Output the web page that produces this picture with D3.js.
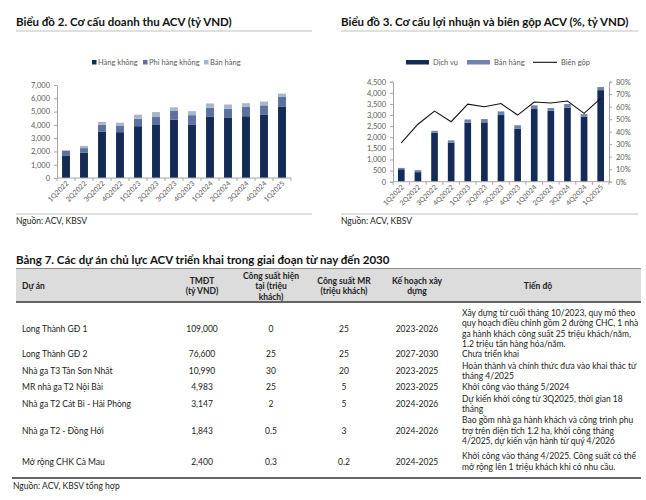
<!DOCTYPE html>
<html><head><meta charset="utf-8">
<script src="https://cdn.jsdelivr.net/npm/d3@7"></script>
<style>
body{margin:0;background:#fff;}
svg{display:block;font-family:Lato,"Noto Sans",sans-serif;}
</style></head>
<body>
<svg id="c" width="646" height="500"></svg>
<script>
// ---------- Chart 2 data (revenue structure) ----------
const quarters = ["1Q2022","2Q2022","3Q2022","4Q2022","1Q2023","2Q2023","3Q2023","4Q2023","1Q2024","2Q2024","3Q2024","4Q2024","1Q2025"];
const hangKhong   = [1700,1900,3500,3450,3900,4040,4400,4030,4630,4520,4650,4750,5350];
const phiHangKhong= [350, 350, 500, 470, 560, 590, 650, 700, 650, 680, 700, 720, 750];
const banHang1    = [50,  170, 220, 240, 310, 330, 270, 300, 330, 330, 280, 280, 250];
const rev1Ticks   = [0,1000,2000,3000,4000,5000,6000,7000];
const legend1     = ["Hàng không","Phi hàng không","Bán hàng"];

// ---------- Chart 3 data (profit & gross margin) ----------
const dichVu   = [560, 430, 2200,1750,2650,2670,3000,2390,3270,3190,3330,2920,4120];
const banHang2 = [60,  90,  90,  110, 150, 150, 165, 150, 165, 125, 165, 120, 140];
const bienGop  = [0.31,0.46,0.565,0.48,0.62,0.60,0.625,0.533,0.637,0.63,0.645,0.547,0.667];
const leftTicks  = [0,500,1000,1500,2000,2500,3000,3500,4000,4500];
const rightTicks = [0,0.1,0.2,0.3,0.4,0.5,0.6,0.7,0.8];
const legend2    = ["Dịch vụ","Bán hàng","Biên gộp"];

// ---------- Table data ----------
const tableHeaders = [["Dự án"],["TMĐT","(tỷ VND)"],["Công suất hiện","tại (triệu","khách)"],["Công suất MR","(triệu khách)"],["Kế hoạch xây","dựng"],["Tiến độ"]];
const projects = ["Long Thành GĐ 1","Long Thành GĐ 2","Nhà ga T3 Tân Sơn Nhất","MR nhà ga T2 Nội Bài","Nhà ga T2 Cát Bi - Hải Phòng","Nhà ga T2 - Đồng Hới","Mở rộng CHK Cà Mau"];
const tmdt     = ["109,000","76,600","10,990","4,983","3,147","1,843","2,400"];
const capNow   = ["0","25","30","25","2","0.5","0.3"];
const capMR    = ["25","25","20","5","5","3","0.2"];
const plan     = ["2023-2026","2027-2030","2023-2025","2023-2025","2024-2026","2024-2026","2024-2025"];
const progress = [
  ["Xây dựng từ cuối tháng 10/2023, quy mô theo","quy hoạch điều chỉnh gồm 2 đường CHC, 1 nhà","ga hành khách công suất 25 triệu khách/năm,","1.2 triệu tấn hàng hóa/năm."],
  ["Chưa triển khai"],
  ["Hoàn thành và chính thức đưa vào khai thác từ","tháng 4/2025"],
  ["Khởi công vào tháng 5/2024"],
  ["Dự kiến khởi công từ 3Q2025, thời gian 18","tháng"],
  ["Bao gồm nhà ga hành khách và công trình phụ","trợ trên diện tích 1.2 ha, khởi công tháng","4/2025, dự kiến vận hành từ quý 4/2026"],
  ["Khởi công vào tháng 4/2025. Công suất có thể","mở rộng lên 1 triệu khách khi có nhu cầu."]
];
const titles = ["Biểu đồ 2. Cơ cấu doanh thu ACV (tỷ VND)","Biểu đồ 3. Cơ cấu lợi nhuận và biên gộp ACV (%, tỷ VND)","Bảng 7. Các dự án chủ lực ACV triển khai trong giai đoạn từ nay đến 2030"];
const sources = ["Nguồn: ACV, KBSV","Nguồn: ACV, KBSV","Nguồn: ACV, KBSV tổng hợp"];

const svg = d3.select("#c");
const NAVY = "#142a57", MID = "#5d71a0", LIGHT = "#a9b5cd", TXT="#595959", AX="#a6a6a6";

svg.append("text").attr("x",16).attr("y",26).attr("font-size",11.5).attr("font-weight",700).attr("fill","#111").text(titles[0]);
svg.append("text").attr("x",341).attr("y",26).attr("font-size",11.5).attr("font-weight",700).attr("fill","#111").text(titles[1]);
svg.append("line").attr("x1",16).attr("x2",312).attr("y1",31).attr("y2",31).attr("stroke","#bfbfbf");
svg.append("line").attr("x1",341).attr("x2",638).attr("y1",31).attr("y2",31).attr("stroke","#bfbfbf");
svg.append("line").attr("x1",16).attr("x2",312).attr("y1",214).attr("y2",214).attr("stroke","#bfbfbf");
svg.append("line").attr("x1",341).attr("x2",638).attr("y1",214).attr("y2",214).attr("stroke","#bfbfbf");
svg.append("text").attr("x",16).attr("y",224).attr("font-size",8.5).attr("fill","#222").text(sources[0]);
svg.append("text").attr("x",341).attr("y",224).attr("font-size",8.5).attr("fill","#222").text(sources[1]);

function xLabels(g, x, y0){
  quarters.forEach(q=>{
    const cx = x(q)+x.bandwidth()/2;
    g.append("text").attr("transform",`translate(${cx+3},${y0+6}) rotate(-45)`)
      .attr("text-anchor","end").attr("font-size",7).attr("fill",TXT).text(q);
  });
  const step = x.step();
  for(let i=0;i<=quarters.length;i++){
    const xx = x.range()[0]+i*step;
    g.append("line").attr("x1",xx).attr("x2",xx).attr("y1",y0).attr("y2",y0+3).attr("stroke",AX);
  }
  g.append("line").attr("x1",x.range()[0]).attr("x2",x.range()[1]).attr("y1",y0).attr("y2",y0).attr("stroke",AX);
}

// ---------- Chart 1 ----------
{
  const g = svg.append("g");
  const x = d3.scaleBand().domain(quarters).range([57,291]).paddingInner(0.56).paddingOuter(0.28);
  const y = d3.scaleLinear().domain([0,7000]).range([178,85]);
  const stack = d3.stack().keys([0,1,2]).value((d,k)=>d[k]);
  const rows = quarters.map((q,i)=>[hangKhong[i],phiHangKhong[i],banHang1[i]]);
  const series = stack(rows);
  const cols=[NAVY,MID,LIGHT];
  series.forEach((s,k)=>{
    g.selectAll(null).data(s).enter().append("rect")
      .attr("x",(d,i)=>x(quarters[i])).attr("width",x.bandwidth())
      .attr("y",d=>y(d[1])).attr("height",d=>y(d[0])-y(d[1])).attr("fill",cols[k]);
  });
  const ya = g.append("g").attr("transform","translate(57,0)").call(d3.axisLeft(y).tickValues(rev1Ticks).tickSize(3).tickPadding(4).tickFormat(d3.format(",")));
  ya.select(".domain").attr("stroke",AX);
  ya.selectAll(".tick line").attr("stroke",AX);
  ya.selectAll("text").attr("font-size",7.5).attr("fill",TXT).attr("font-family","Lato");
  xLabels(g,x,178);
  const lx=[92,143,204];
  legend1.forEach((t,k)=>{
    g.append("rect").attr("x",lx[k]).attr("y",60).attr("width",4.5).attr("height",4.5).attr("fill",cols[k]);
    g.append("text").attr("x",lx[k]+6).attr("y",65).attr("font-size",7.5).attr("fill",TXT).text(t);
  });
}

// ---------- Chart 2 ----------
{
  const g = svg.append("g");
  const x = d3.scaleBand().domain(quarters).range([393,609]).paddingInner(0.6).paddingOuter(0.3);
  const y = d3.scaleLinear().domain([0,4500]).range([181.7,81.7]);
  const yr = d3.scaleLinear().domain([0,0.8]).range([181.7,81.7]);
  const rows = quarters.map((q,i)=>[dichVu[i],banHang2[i]]);
  const series = d3.stack().keys([0,1]).value((d,k)=>d[k])(rows);
  const cols=[NAVY,"#6f84ad"];
  series.forEach((s,k)=>{
    g.selectAll(null).data(s).enter().append("rect")
      .attr("x",(d,i)=>x(quarters[i])).attr("width",x.bandwidth())
      .attr("y",d=>y(d[1])).attr("height",d=>y(d[0])-y(d[1])).attr("fill",cols[k]);
  });
  const line = d3.line().x((d,i)=>x(quarters[i])+x.bandwidth()/2).y(d=>yr(d));
  g.append("path").attr("d",line(bienGop)).attr("fill","none").attr("stroke","#111").attr("stroke-width",1.1);
  const ya = g.append("g").attr("transform","translate(393,0)").call(d3.axisLeft(y).tickValues(leftTicks).tickSize(3).tickPadding(4).tickFormat(d3.format(",")));
  const yb = g.append("g").attr("transform","translate(609,0)").call(d3.axisRight(yr).tickValues(rightTicks).tickSize(3).tickPadding(4).tickFormat(d3.format(".0%")));
  [ya,yb].forEach(a=>{
    a.select(".domain").attr("stroke",AX);
    a.selectAll(".tick line").attr("stroke",AX);
    a.selectAll("text").attr("font-size",7.5).attr("fill",TXT).attr("font-family","Lato");
  });
  xLabels(g,x,181.7);
  g.append("rect").attr("x",406).attr("y",60).attr("width",23).attr("height",4.5).attr("fill",cols[0]);
  g.append("text").attr("x",433).attr("y",65).attr("font-size",7.5).attr("fill",TXT).text(legend2[0]);
  g.append("rect").attr("x",467).attr("y",60).attr("width",23).attr("height",4.5).attr("fill",cols[1]);
  g.append("text").attr("x",494).attr("y",65).attr("font-size",7.5).attr("fill",TXT).text(legend2[1]);
  g.append("line").attr("x1",533).attr("x2",557).attr("y1",62.3).attr("y2",62.3).attr("stroke","#111").attr("stroke-width",1.1);
  g.append("text").attr("x",561).attr("y",65).attr("font-size",7.5).attr("fill",TXT).text(legend2[2]);
}

// ---------- Table ----------
{
  const g = svg.append("g");
  const FS = 8.5;
  g.append("text").attr("x",16).attr("y",264).attr("font-size",11.5).attr("font-weight",700).attr("fill","#111").text(titles[2]);
  g.append("rect").attr("x",16).attr("y",268.5).attr("width",625).attr("height",33).attr("fill","#dcdcdc");
  g.append("line").attr("x1",16).attr("x2",641).attr("y1",268.5).attr("y2",268.5).attr("stroke","#8c8c8c");
  g.append("line").attr("x1",16).attr("x2",641).attr("y1",302).attr("y2",302).attr("stroke","#333").attr("stroke-width",1.5);
  const colX = [22,202,271,344,417,538];
  const anchors = ["start","middle","middle","middle","middle","middle"];
  tableHeaders.forEach((h,c)=>{
    const n=h.length, lh=10.5, mid=286;
    h.forEach((t,j)=>{
      g.append("text").attr("x",colX[c]).attr("y",mid+3-(n-1)*lh/2+j*lh)
        .attr("text-anchor",anchors[c]).attr("font-size",FS).attr("font-weight",700).attr("fill","#222").text(t);
    });
  });
  const rowY = [328.5,354,371,387,404,430.5,461.5];
  const LH = 10.5;
  projects.forEach((p,i)=>{
    const yy=rowY[i]+3;
    const vals=[p,tmdt[i],capNow[i],capMR[i],plan[i]];
    vals.forEach((v,c)=>{
      g.append("text").attr("x",colX[c]).attr("y",yy).attr("text-anchor",anchors[c]).attr("font-size",FS).attr("fill","#222").text(v);
    });
    const n=progress[i].length;
    progress[i].forEach((t,j)=>{
      g.append("text").attr("x",462).attr("y",rowY[i]+3-(n-1)*LH/2+j*LH).attr("font-size",FS).attr("fill","#222").text(t);
    });
  });
  g.append("line").attr("x1",12).attr("x2",641).attr("y1",478).attr("y2",478).attr("stroke","#333").attr("stroke-width",1.5);
  g.append("text").attr("x",13).attr("y",489).attr("font-size",8.5).attr("fill","#222").text(sources[2]);
}
</script>
</body></html>
